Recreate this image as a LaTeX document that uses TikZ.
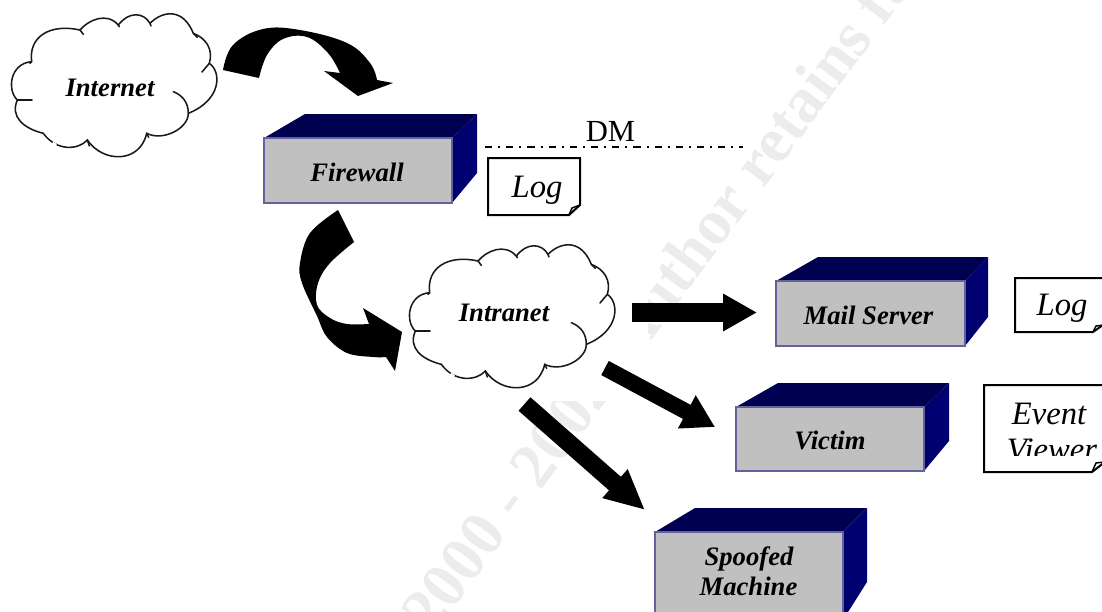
\documentclass[tikz,border=0pt]{standalone}
\usepackage{fontspec}
\setmainfont{Liberation Serif}
\usetikzlibrary{arrows.meta}
\definecolor{topnavy}{HTML}{000050}
\definecolor{sidenavy}{HTML}{000070}
\definecolor{frontgray}{HTML}{C0C0C0}
\definecolor{frontedge}{HTML}{62629C}
\definecolor{wmark}{HTML}{ECECEC}
\tikzset{
  boldlabel/.style={font=\fontsize{20}{24}\selectfont\bfseries\itshape,anchor=base,inner sep=0pt},
  notelabel/.style={font=\fontsize{24.5}{28}\selectfont\itshape,anchor=base,inner sep=0pt},
  noteline/.style={draw=black,line width=1.5pt,fill=white,line join=miter},
  cloudline/.style={draw=black!90,line width=1.15pt,fill=white},
  hookline/.style={draw=black!90,line width=1.15pt,line cap=round},
}
% server box: left, top, right, bottom, back x of top-left, back y, back right, side bottom
\newcommand{\serverbox}[8]{%
  \fill[topnavy] (#1,#2) -- (#5,#6) -- (#7,#6) -- (#3,#2) -- cycle;
  \fill[sidenavy] (#3,#2) -- (#7,#6) -- (#7,#8) -- (#3,#4) -- cycle;
  \draw[frontedge,line width=1.4pt,fill=frontgray] (#1,#2) rectangle (#3,#4);
}
% cloud drawn in 3x coordinates with origin shift
\newcommand{\cloudshape}[2]{%
  \begin{scope}[shift={(#1,#2)},x=0.25pt,y=-0.25pt]
    \path[cloudline] (240,90) .. controls (265,60) and (320,35) .. (355,75)
      .. controls (385,35) and (430,35) .. (450,70)
      .. controls (490,30) and (550,25) .. (580,100)
      .. controls (620,115) and (640,150) .. (628,190)
      .. controls (665,215) and (665,300) .. (565,340)
      .. controls (565,385) and (490,425) .. (440,400)
      .. controls (420,490) and (310,490) .. (262,420)
      .. controls (235,450) and (170,455) .. (130,400)
      .. controls (70,385) and (30,350) .. (52,300)
      .. controls (20,270) and (30,190) .. (95,185)
      .. controls (85,110) and (150,70) .. (240,90) -- cycle;
    \draw[white,line width=1.6pt] (158,428) -- (169,435);
    \draw[hookline] (240,90) -- (250,103);
    \draw[hookline] (355,75) -- (358,80);
    \draw[hookline] (450,70) -- (453,78);
    \draw[hookline] (580,100) -- (592,112);
    \draw[hookline] (628,190) -- (606,216);
    \draw[hookline] (565,340) .. controls (565,305) and (545,285) .. (520,275);
    \draw[hookline] (52,300) -- (96,300);
    \draw[hookline] (95,185) -- (90,190);
    \draw[hookline] (440,400) -- (446,412);
    \draw[hookline] (262,420) -- (268,438);
  \end{scope}
}
\begin{document}
\begin{tikzpicture}[x=0.75pt,y=-0.75pt]
\path[use as bounding box,fill=white] (0,0) rectangle (1102,611);
\begin{scope}
\clip (0,0) rectangle (1102,611);
% watermark
\node[rotate=53.5,text=wmark,font=\fontsize{48}{54}\selectfont\bfseries,inner sep=0pt,anchor=base west] (wm) at (432,637)
  {2000 - 2002, Author retains full rights};
% white ground of the intranet cloud
\fill[white] (400,238) rectangle (648,401);

% clouds
\cloudshape{0}{0}
\cloudshape{398}{231}
\node[boldlabel] (internet) at (110,96) {Internet};
\node[boldlabel] (intranet) at (504,321) {Intranet};

% server boxes
\serverbox{264}{138}{452}{203}{305}{114}{477}{173}
\serverbox{776}{281}{965}{346}{818}{257}{988}{317}
\serverbox{736}{407}{924}{471}{778}{383}{949}{441}
\serverbox{655}{532}{843}{620}{695}{508}{867}{582}
\node[boldlabel] (firewall) at (357,181) {Firewall};
\node[boldlabel] (mail) at (868.5,324) {Mail Server};
\node[boldlabel] (victim) at (830,449) {Victim};
\node[boldlabel] (spoofed) at (749,565) {Spoofed};
\node[boldlabel] (machine) at (748.5,595) {Machine};

% curved block arrows
\fill[black] plot[smooth,tension=0.65] coordinates {(223,70) (233,45) (263,29) (300,30) (347,43) (370,63) (377,80)}
  -- (393,83) -- (358,96) -- (324,71) -- (340,73)
  -- plot[smooth,tension=0.65] coordinates {(340,73) (328,53) (307,37) (283,39) (267,55) (259,78)} -- cycle;
\fill[black] (338,210) -- (354,242)
  -- plot[smooth,tension=0.6] coordinates {(354,242) (330,263) (318,283) (317,305) (330,318) (347,324) (369,324)}
  -- (363,308) -- (402,332) -- (395,371) -- (386,357)
  -- plot[smooth,tension=0.6] coordinates {(386,357) (373,357) (347,353) (327,337) (317,316) (302,283) (300,263) (310,233) (338,210)} -- cycle;

% straight block arrows
\coordinate (a1s) at (632,312.5); \coordinate (a1t) at (757,312.5);
\coordinate (a2s) at (605,368);   \coordinate (a2t) at (715,427);
\coordinate (a3s) at (524.5,404); \coordinate (a3t) at (645,510);
\draw[line width=14.25pt,-{Triangle[length=25.5pt,width=26.5pt]}] (a1s) -- (a1t);
\draw[line width=12pt,-{Triangle[length=24pt,width=26.5pt]}] (a2s) -- (a2t);
\draw[line width=13.5pt,-{Triangle[length=30pt,width=26.5pt]}] (a3s) -- (a3t);

% DMZ line
\coordinate (dm1) at (485,147); \coordinate (dm2) at (743,147);
\draw[line width=1.4pt,dash pattern=on 5.4pt off 4.5pt on 1.5pt off 4.5pt] (dm1) -- (dm2);
\node[font=\fontsize{23}{26}\selectfont,anchor=base,inner sep=0pt] (dm) at (610.5,141) {DM};

% notes
\path[noteline] (488,158) -- (580,158) -- (580,205) -- (569,215) -- (488,215) -- cycle;
\draw[line width=1.1pt] (569,215) -- (572,208) -- (580,205);
\begin{scope}
\clip (490,160) rectangle (578,204);
\node[notelabel] (log1) at (537,197) {Log};
\end{scope}

\path[noteline] (1015,278) -- (1110,278) -- (1110,320) -- (1093,332) -- (1015,332) -- cycle;
\draw[line width=1.1pt] (1093,332) -- (1096,326) -- (1104,325);
\begin{scope}
\clip (1017,280) rectangle (1102,322);
\node[notelabel] (log2) at (1062,315) {Log};
\end{scope}

\path[noteline] (984,385) -- (1110,385) -- (1110,458) -- (1092,472) -- (984,472) -- cycle;
\draw[line width=1.1pt] (1092,472) -- (1096,463) -- (1104,462);
\begin{scope}
\clip (986,387) rectangle (1102,455);
\node[notelabel] (event) at (1049,424) {Event};
\node[notelabel] (viewer) at (1052,460) {Viewer};
\end{scope}
\end{scope}
\end{tikzpicture}
\end{document}
